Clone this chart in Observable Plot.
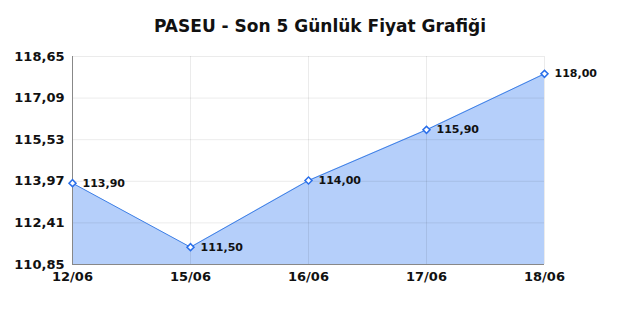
<!DOCTYPE html>
<html>
<head>
<meta charset="utf-8">
<script src="https://cdn.jsdelivr.net/npm/d3@7"></script>
<script src="https://cdn.jsdelivr.net/npm/@observablehq/plot@0.6"></script>
<style>
  body { margin: 0; background: #fff; font-family: "DejaVu Sans", sans-serif; }
  #title { height: 40px; width: 640px; text-align: center; font-weight: bold; font-size: 17px; line-height: 17px; padding-top: 18px; box-sizing: border-box; color: #111; }
</style>
</head>
<body>
<div id="title">PASEU - Son 5 Günlük Fiyat Grafiği</div>
<div id="chart"></div>
<script>
const dates = ["12/06", "15/06", "16/06", "17/06", "18/06"];
const prices = [113.90, 111.50, 114.00, 115.90, 118.00];
const yTicks = [110.85, 112.41, 113.97, 115.53, 117.09, 118.65];

const data = dates.map((d, i) => ({date: d, price: prices[i]}));
const fmt = v => v.toFixed(2).replace(".", ",");

const chart = Plot.plot({
  width: 640,
  height: 280,
  marginTop: 16,
  marginBottom: 56,
  marginLeft: 72,
  marginRight: 96,
  style: {fontFamily: "DejaVu Sans, sans-serif", background: "#fff"},
  x: {type: "point", domain: dates, padding: 0, label: null},
  y: {domain: [110.85, 118.65], label: null},
  marks: [
    Plot.areaY(data, {x: "date", y1: 110.85, y2: "price", fill: "#b5cffa"}),
    Plot.gridY(yTicks, {stroke: "#000", strokeOpacity: 0.08, strokeWidth: 1}),
    Plot.gridX(dates, {stroke: "#000", strokeOpacity: 0.08, strokeWidth: 1}),
    Plot.lineY(data, {x: "date", y: "price", stroke: "#3d7fe6", strokeWidth: 1}),
    Plot.ruleX([dates[0]], {stroke: "#888", strokeWidth: 1}),
    Plot.ruleY([110.85], {stroke: "#888", strokeWidth: 1}),
    Plot.axisY(yTicks, {tickSize: 0, tickPadding: 8, tickFormat: fmt, fontSize: 13, fontWeight: "bold", fill: "#111"}),
    Plot.axisX(dates, {tickSize: 0, tickPadding: 7, fontSize: 13, fontWeight: "bold", fill: "#111"}),
    Plot.dot(data, {x: "date", y: "price", symbol: "square", rotate: 45, r: 2.8, fill: "#fff", stroke: "#2a6fea", strokeWidth: 1.5}),
    Plot.text(data, {x: "date", y: "price", text: d => fmt(d.price), dx: 10, textAnchor: "start", fontSize: 11, fontWeight: "bold", fill: "#111"})
  ]
});
document.getElementById("chart").appendChild(chart);
</script>
</body>
</html>
